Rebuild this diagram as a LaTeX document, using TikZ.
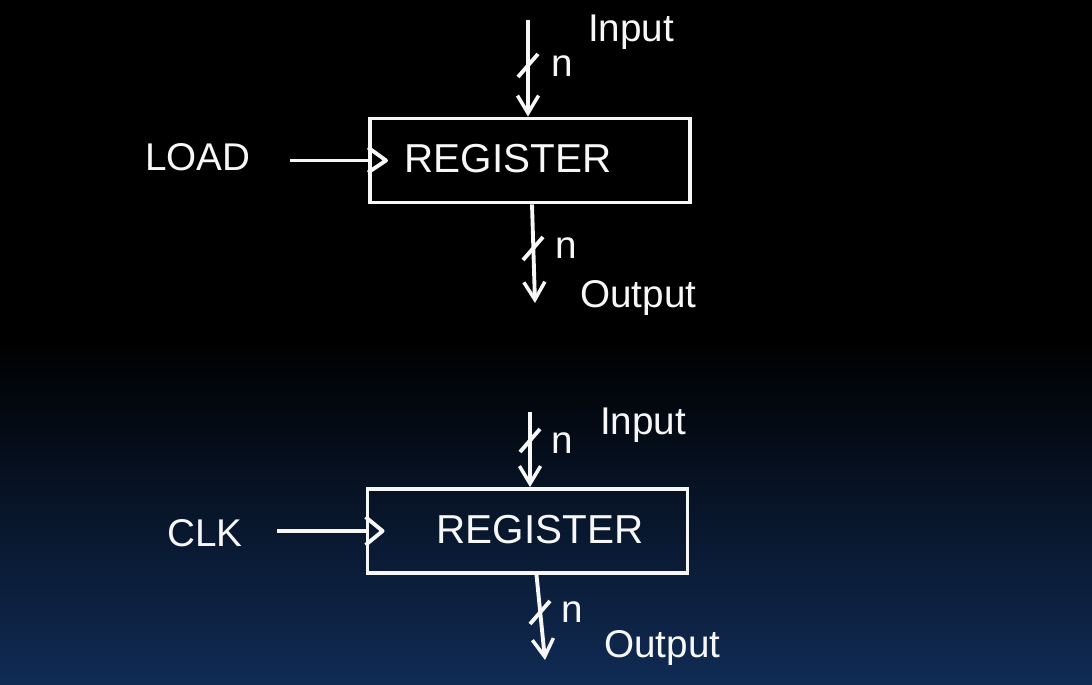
\documentclass[tikz,border=0pt]{standalone}
\usepackage{fontspec}
\setmainfont{Liberation Sans}
\usepackage{tikz}
\usetikzlibrary{arrows.meta, positioning, calc}
\definecolor{boardBlue}{RGB}{16,43,84}
\colorlet{chalk}{white!94!gray}

\begin{document}
\begin{tikzpicture}[font=\fontsize{11}{13}\selectfont,
  regbox/.style={draw=chalk, line width=1.1pt, minimum width=3.2cm, minimum height=0.84cm, inner sep=0pt},
  wire/.style={draw=chalk, line width=1.1pt},
  bus/.style={wire, -{Straight Barb[length=5pt, width=6pt, line width=1pt]}},
  lbl/.style={text=chalk, inner sep=1pt},
  regtxt/.style={text=chalk, font=\fontsize{11.5}{14}\selectfont},
]
  \shade[top color=black, bottom color=boardBlue, middle color=black] (0,0) rectangle (10.92,6.84);
  \useasboundingbox (0,0) rectangle (10.92,6.84);

  \node[regbox] (reg1) at (5.30,5.235) {};
  \node[regtxt] (reg1txt) at (5.08,5.25) {REGISTER};
  \coordinate (in1) at (5.28,6.64);
  \coordinate (out1) at (5.35,3.81);
  \node[lbl] (load) at (1.98,5.27) {LOAD};
  \node[lbl] (n1a) at (5.62,6.18) {n};
  \node[lbl, anchor=west] (inlbl1) at (5.84,6.52) {Input};
  \node[lbl] (n1b) at (5.66,4.36) {n};
  \node[lbl, anchor=west] (outlbl1) at (5.76,3.86) {Output};

  \draw[bus] (in1) -- (in1 |- reg1.north);
  \draw[bus] ([xshift=0.02cm]reg1.south) -- (out1);
  \draw[wire] ([xshift=0.35cm]load.east |- reg1.west) -- (reg1.west);
  \draw[wire, line join=round] ([yshift=0.13cm]reg1.west) -- ++(0.18,-0.13) -- ++(-0.18,-0.12);
  \draw[wire] (5.18,6.07) -- ++(0.2,0.23);
  \draw[wire] (5.23,4.24) -- ++(0.2,0.23);

  \node[regbox] (reg2) at (5.275,1.53) {};
  \node[regtxt] (reg2txt) at (5.40,1.54) {REGISTER};
  \coordinate (in2) at (5.30,2.72);
  \coordinate (out2) at (5.45,0.24);
  \node[lbl] (clk) at (2.05,1.51) {CLK};
  \node[lbl] (n2a) at (5.62,2.41) {n};
  \node[lbl, anchor=west] (inlbl2) at (5.96,2.59) {Input};
  \node[lbl] (n2b) at (5.72,0.72) {n};
  \node[lbl, anchor=west] (outlbl2) at (6.00,0.36) {Output};

  \draw[bus] (in2) -- (in2 |- reg2.north);
  \draw[bus] ([xshift=0.09cm]reg2.south) -- (out2);
  \draw[wire] ([xshift=0.3cm]clk.east |- reg2.west) -- (reg2.west);
  \draw[wire, line join=round] ([yshift=0.14cm]reg2.west) -- ++(0.17,-0.14) -- ++(-0.17,-0.14);
  \draw[wire] (5.20,2.32) -- ++(0.2,0.23);
  \draw[wire] (5.30,0.60) -- ++(0.2,0.23);
\end{tikzpicture}
\end{document}
